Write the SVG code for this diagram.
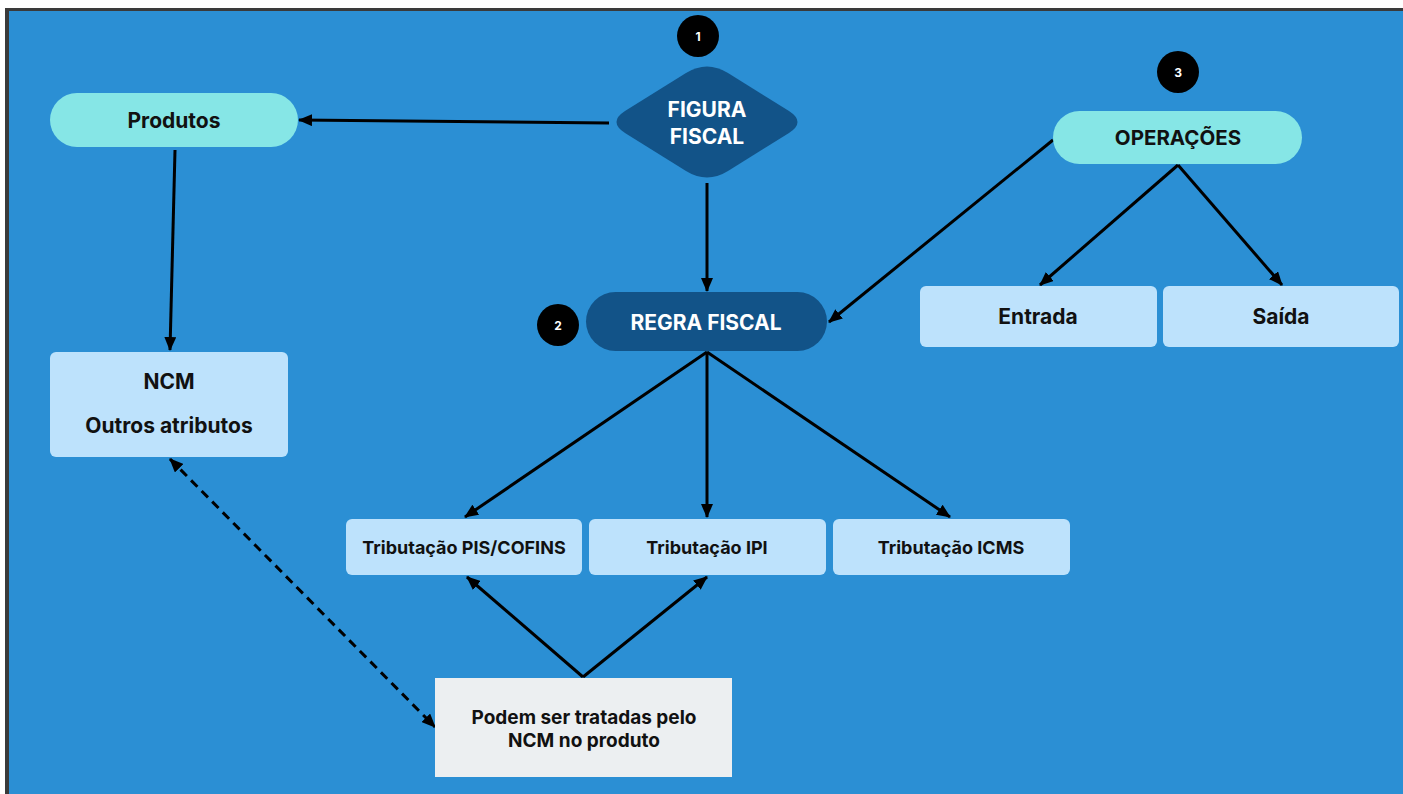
<svg xmlns="http://www.w3.org/2000/svg" width="1403" height="794" viewBox="0 0 1403 794">
<defs>
<marker id="ah" viewBox="0 0 14 12" refX="13" refY="6" markerWidth="14" markerHeight="12" markerUnits="userSpaceOnUse" orient="auto-start-reverse">
<path d="M0,0 L14,6 L0,12 Z" fill="#000"/>
</marker>
<style>
.t{font-family:Inter,"Open Sans","Liberation Sans",sans-serif;font-weight:700;text-anchor:middle;dominant-baseline:central}
.dk{fill:#111}
.wh{fill:#fff}
.cn{stroke:#000;stroke-width:3;fill:none;marker-end:url(#ah)}
.pill{fill:#86e6e6}
.lb{fill:#bde2fc}
.num{fill:#000}
</style>
</defs>
<rect x="0" y="0" width="1403" height="794" fill="#fff"/>
<rect x="5" y="8" width="1398" height="786" fill="#3a3a3a"/>
<rect x="9" y="11" width="1394" height="783" fill="#2b8fd4"/>

<g id="connectors">
<line class="cn" x1="609" y1="123" x2="299" y2="120"/>
<line class="cn" x1="707" y1="183" x2="707" y2="291"/>
<line class="cn" x1="175" y1="150" x2="170" y2="350"/>
<line class="cn" x1="1053" y1="140" x2="829" y2="322"/>
<line class="cn" x1="1178" y1="165" x2="1040" y2="285"/>
<line class="cn" x1="1178" y1="165" x2="1282" y2="285"/>
<line class="cn" x1="707" y1="352" x2="465" y2="517"/>
<line class="cn" x1="707" y1="352" x2="707" y2="517"/>
<line class="cn" x1="707" y1="352" x2="950" y2="517"/>
<line class="cn" x1="583" y1="677" x2="467" y2="577"/>
<line class="cn" x1="583" y1="677" x2="707" y2="577"/>
<line class="cn" x1="170" y1="459" x2="435" y2="727" stroke-dasharray="9,6" marker-start="url(#ah)"/>
</g>

<g id="produtos">
<rect class="pill" x="50" y="93" width="248" height="54" rx="27"/>
<text class="t dk" x="174" y="120" font-size="21">Produtos</text>
</g>

<g id="figura-fiscal">
<path d="M686,73 Q707,60 728,73 L789,111 Q806,122 789,133 L728,171 Q707,184 686,171 L625,133 Q608,122 625,111 Z" fill="#125388"/>
<text class="t wh" x="707" y="109" font-size="21">FIGURA</text>
<text class="t wh" x="707" y="136" font-size="21">FISCAL</text>
</g>

<g id="badge-1">
<circle class="num" cx="698" cy="36" r="21"/>
<text class="t wh" x="698" y="36" font-size="12">1</text>
</g>

<g id="operacoes">
<rect class="pill" x="1053" y="111" width="249" height="53" rx="26.5"/>
<text class="t dk" x="1178" y="137" font-size="20.5">OPERAÇÕES</text>
</g>

<g id="badge-3">
<circle class="num" cx="1178" cy="72" r="21"/>
<text class="t wh" x="1178" y="72" font-size="12">3</text>
</g>

<g id="entrada">
<rect class="lb" x="920" y="286" width="237" height="61" rx="6"/>
<text class="t dk" x="1038" y="316" font-size="21">Entrada</text>
</g>

<g id="saida">
<rect class="lb" x="1163" y="286" width="236" height="61" rx="6"/>
<text class="t dk" x="1281" y="316" font-size="21">Saída</text>
</g>

<g id="regra-fiscal">
<rect x="586" y="292" width="241" height="59" rx="29.5" fill="#125388"/>
<text class="t wh" x="706" y="322" font-size="21">REGRA FISCAL</text>
</g>

<g id="badge-2">
<circle class="num" cx="558" cy="325" r="21"/>
<text class="t wh" x="558" y="325" font-size="12">2</text>
</g>

<g id="ncm">
<rect class="lb" x="50" y="352" width="238" height="105" rx="6"/>
<text class="t dk" x="169" y="381" font-size="21">NCM</text>
<text class="t dk" x="169" y="425" font-size="21">Outros atributos</text>
</g>

<g id="trib-pis">
<rect class="lb" x="346" y="519" width="236" height="56" rx="6"/>
<text class="t dk" x="464" y="547" font-size="18">Tributação PIS/COFINS</text>
</g>

<g id="trib-ipi">
<rect class="lb" x="589" y="519" width="237" height="56" rx="6"/>
<text class="t dk" x="707" y="547" font-size="18">Tributação IPI</text>
</g>

<g id="trib-icms">
<rect class="lb" x="833" y="519" width="237" height="56" rx="6"/>
<text class="t dk" x="951" y="547" font-size="18">Tributação ICMS</text>
</g>

<g id="podem">
<rect x="435" y="678" width="297" height="99" fill="#eceff1"/>
<text class="t dk" x="584" y="717" font-size="19">Podem ser tratadas pelo</text>
<text class="t dk" x="584" y="740" font-size="19">NCM no produto</text>
</g>
</svg>
